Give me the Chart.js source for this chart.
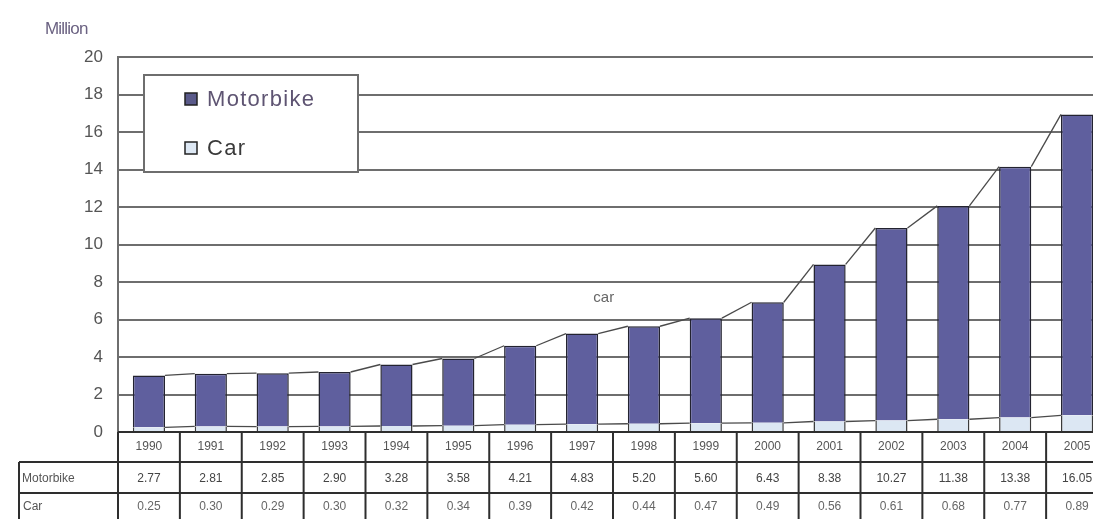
<!DOCTYPE html>
<html>
<head>
<meta charset="utf-8">
<script src="https://cdn.jsdelivr.net/npm/chart.js@4"></script>
<style>
  html, body { margin: 0; padding: 0; background: #ffffff; overflow: hidden; }
  #wrap { width: 1093px; height: 519px; overflow: hidden; position: relative; }
  canvas { display: block; }
</style>
</head>
<body>
<div id="wrap"><canvas id="c" width="1110" height="519"></canvas></div>
<script>
// ---- data ----
const years = ['1990','1991','1992','1993','1994','1995','1996','1997','1998','1999','2000','2001','2002','2003','2004','2005'];
const motorbike = [2.77, 2.81, 2.85, 2.90, 3.28, 3.58, 4.21, 4.83, 5.20, 5.60, 6.43, 8.38, 10.27, 11.38, 13.38, 16.05];
const car = [0.25, 0.30, 0.29, 0.30, 0.32, 0.34, 0.39, 0.42, 0.44, 0.47, 0.49, 0.56, 0.61, 0.68, 0.77, 0.89];
const yTicks = [0, 2, 4, 6, 8, 10, 12, 14, 16, 18, 20];
const seriesNames = ['Car', 'Motorbike'];
const unitLabel = 'Million';
const noteLabel = 'car';

const FONT = '"Liberation Sans", Arial, sans-serif';

const extras = {
  id: 'extras',
  afterDatasetsDraw(chart) {
    const ctx = chart.ctx;
    // series lines connecting stack tops
    ctx.save();
    ctx.strokeStyle = '#4a4a4a';
    ctx.lineWidth = 1.3;
    chart.data.datasets.forEach((ds, i) => {
      const els = chart.getDatasetMeta(i).data;
      for (let j = 0; j < els.length - 1; j++) {
        const a = els[j], b = els[j + 1];
        ctx.beginPath();
        ctx.moveTo(a.x + a.width / 2, a.y);
        ctx.lineTo(b.x - b.width / 2, b.y);
        ctx.stroke();
      }
    });
    ctx.restore();
  },
  afterDraw(chart) {
    const ctx = chart.ctx;
    const xs = chart.scales.x, ys = chart.scales.y;
    const area = chart.chartArea;
    ctx.save();

    // unit label
    ctx.fillStyle = '#6b6282';
    ctx.font = '17px ' + FONT;
    ctx.textAlign = 'left';
    ctx.textBaseline = 'middle';
    ctx.letterSpacing = '-0.8px';
    ctx.fillText(unitLabel, 45, 29);
    ctx.letterSpacing = '0px';

    // note label
    ctx.fillStyle = '#666';
    ctx.font = '15px ' + FONT;
    ctx.textAlign = 'center';
    ctx.fillText(noteLabel, xs.getPixelForValue(7.35), ys.getPixelForValue(7.15));

    // legend box
    const lx = 144, ly = 75, lw = 214, lh = 97;
    ctx.fillStyle = '#fff';
    ctx.fillRect(lx, ly, lw, lh);
    ctx.strokeStyle = '#6e6e6e';
    ctx.lineWidth = 2;
    ctx.strokeRect(lx, ly, lw, lh);
    const legendItems = [chart.data.datasets[1], chart.data.datasets[0]];
    const legendColors = ['#5a5a8a', '#dde8f4'];
    const textColors = ['#5e5472', '#3a3a3a'];
    legendItems.forEach((ds, k) => {
      const cy = 99 + k * 49;
      ctx.fillStyle = legendColors[k];
      ctx.fillRect(185, cy - 6, 12, 12);
      ctx.strokeStyle = '#222';
      ctx.lineWidth = 1.5;
      ctx.strokeRect(185, cy - 6, 12, 12);
      ctx.fillStyle = textColors[k];
      ctx.font = '22px ' + FONT;
      ctx.textAlign = 'left';
      ctx.textBaseline = 'middle';
      ctx.letterSpacing = '1.3px';
      ctx.fillText(ds.label, 207, cy + 1);
      ctx.letterSpacing = '0px';
    });

    // data table
    const top = area.bottom, r1 = 462, r2 = 493, r3 = 525;
    const leftX = 19, right = chart.width;
    ctx.strokeStyle = '#2e2e2e';
    ctx.lineWidth = 2;
    ctx.beginPath();
    ctx.moveTo(area.left, top); ctx.lineTo(right, top);
    ctx.moveTo(leftX, r1); ctx.lineTo(right, r1);
    ctx.moveTo(leftX, r2); ctx.lineTo(right, r2);
    ctx.moveTo(leftX, r1); ctx.lineTo(leftX, r3);
    const colW = (area.right - area.left) / years.length;
    for (let j = 0; j <= years.length; j++) {
      const x = xs.getPixelForValue(j) - colW / 2;
      ctx.moveTo(x, top); ctx.lineTo(x, r3);
    }
    ctx.stroke();

    ctx.font = '12px ' + FONT;
    ctx.textBaseline = 'middle';
    ctx.fillStyle = '#555';
    ctx.textAlign = 'left';
    ctx.fillText(seriesNames[1], 22, (r1 + r2) / 2 + 1);
    ctx.fillText(seriesNames[0], 23, (r2 + r3) / 2 - 2);
    ctx.textAlign = 'center';
    years.forEach((y, j) => {
      const x = xs.getPixelForValue(j);
      ctx.fillStyle = '#555';
      ctx.fillText(y, x, (top + r1) / 2);
      ctx.fillStyle = '#444';
      ctx.fillText(motorbike[j].toFixed(2), x, (r1 + r2) / 2 + 1);
      ctx.fillStyle = '#666';
      ctx.fillText(car[j].toFixed(2), x, (r2 + r3) / 2 - 2);
    });
    ctx.restore();
  }
};

new Chart(document.getElementById('c'), {
  type: 'bar',
  data: {
    labels: years,
    datasets: [
      {
        label: seriesNames[0],
        data: car,
        backgroundColor: '#dce7f3',
        borderColor: '#3a3a3a',
        borderWidth: { left: 1.5, right: 1.5, top: 0, bottom: 0 },
        borderSkipped: false
      },
      {
        label: seriesNames[1],
        data: motorbike,
        backgroundColor: '#5f5f9e',
        borderColor: '#232330',
        borderWidth: 1.5,
        borderSkipped: 'bottom'
      }
    ]
  },
  options: {
    responsive: false,
    animation: false,
    layout: { padding: { top: 57, bottom: 87, left: 0, right: 2 } },
    plugins: { legend: { display: false }, tooltip: { enabled: false } },
    datasets: { bar: { barPercentage: 0.52, categoryPercentage: 1.0 } },
    scales: {
      x: {
        display: false,
        stacked: true
      },
      y: {
        stacked: true,
        min: 0,
        max: 20,
        afterBuildTicks: (s) => { s.ticks = yTicks.map(v => ({ value: v })); },
        afterFit: (s) => { s.width = 118; },
        ticks: {
          color: '#555',
          font: { family: FONT, size: 17 },
          padding: 15
        },
        grid: { color: '#6e6e6e', lineWidth: 2, drawTicks: false },
        border: { display: true, color: '#6e6e6e', width: 2 }
      }
    }
  },
  plugins: [extras]
});
</script>
</body>
</html>
